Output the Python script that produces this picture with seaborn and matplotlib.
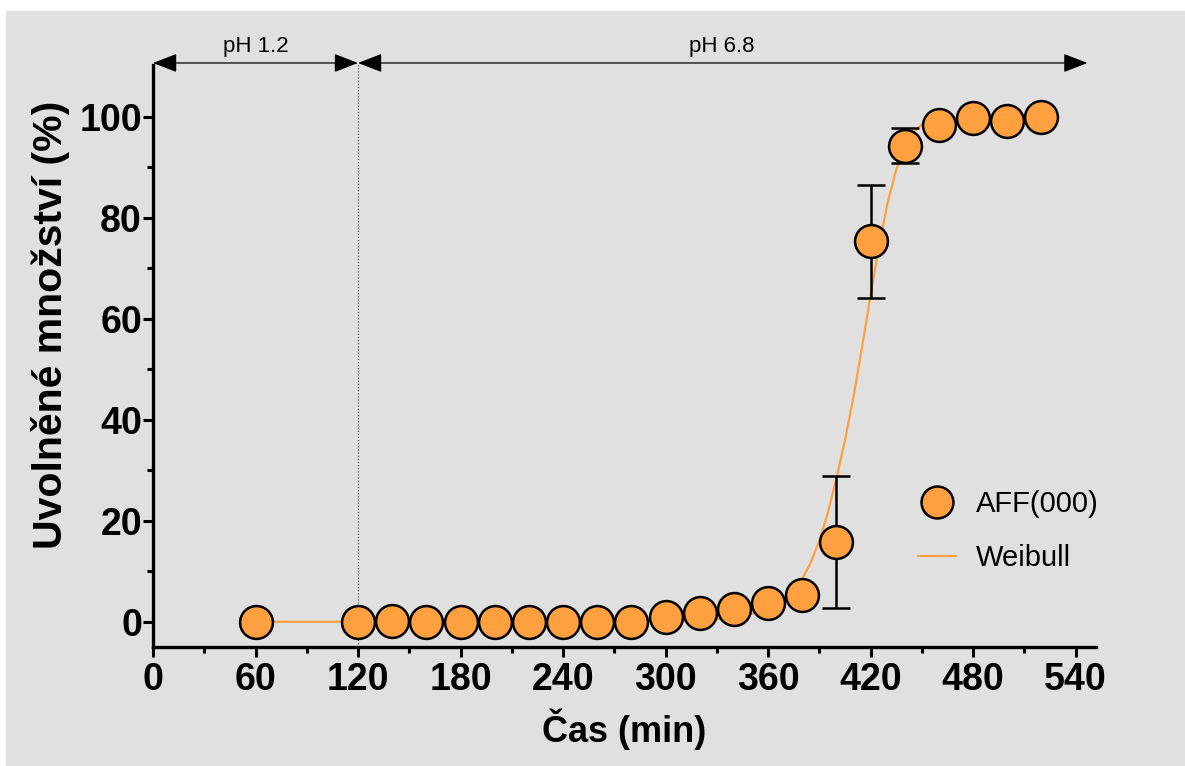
import matplotlib
matplotlib.use('Agg')
import matplotlib.pyplot as plt
from matplotlib.lines import Line2D
from matplotlib.patches import Rectangle
from matplotlib.ticker import MultipleLocator
import seaborn as sns

# measured release of AFF(000), mean +- SD
time_min = [60, 120, 140, 160, 180, 200, 220, 240, 260, 280, 300,
            320, 340, 360, 380, 400, 420, 440, 460, 480, 500, 520]
released = [0.0, 0.0, 0.1, 0.0, 0.0, 0.0, 0.0, 0.0, 0.0, 0.0, 1.0,
            1.8, 2.6, 3.8, 5.3, 15.8, 75.4, 94.3, 98.4, 99.8, 99.2, 100.0]
released_sd = [0, 0, 0, 0, 0, 0, 0, 0, 0, 0, 0.3,
               0.4, 0.5, 0.6, 0.8, 13.1, 11.2, 3.5, 0.5, 0.3, 0.4, 0.3]

# Weibull fit
weibull_t = [60, 120, 200, 280, 300, 320, 330, 340, 345, 350, 355, 360, 365, 370, 375,
             380, 385, 390, 395, 400, 405, 410, 415, 420, 425, 430, 435, 440,
             445, 450, 455, 460, 470, 480, 520]
weibull_y = [0.0, 0.0, 0.0, 0.0, 0.05, 0.25, 0.5, 0.9, 1.2, 1.55, 2.0, 2.6, 3.4, 4.5, 6.2,
             8.5, 11.7, 16.0, 21.6, 28.3, 35.9, 44.5, 54.3, 64.6, 74.5, 83.0, 89.5, 94.0,
             96.9, 98.5, 99.3, 99.7, 99.95, 100.0, 100.0]

# medium phases
phase_names = ['pH 1.2', 'pH 6.8']
phase_start = [0, 120]
phase_end = [120, 547]
phase_label_x = [60, 333]

ORANGE = '#ffa040'
BG = '#e0e0e0'

sns.set_theme(style='white')
plt.rcParams['font.family'] = ['Liberation Sans', 'DejaVu Sans']
plt.rcParams.update({'text.color': 'black', 'axes.labelcolor': 'black',
                     'xtick.color': 'black', 'ytick.color': 'black'})

fig = plt.figure(figsize=(11.85, 7.66), dpi=100)
fig.patches.append(Rectangle((6 / 1185, 0), 1, 1 - 11 / 766, transform=fig.transFigure,
                             facecolor=BG, edgecolor='none', zorder=-10))
ax = fig.add_axes([153 / 1185, 119 / 766, 943 / 1185, 582 / 766])
ax.set_facecolor(BG)

ax.errorbar(time_min, released, yerr=released_sd, fmt='none', ecolor='black',
            elinewidth=1.8, capsize=10, capthick=1.8, zorder=2)
sns.lineplot(x=weibull_t, y=weibull_y, color=ORANGE, linewidth=1.6, ax=ax, zorder=1)
sns.scatterplot(x=time_min, y=released, s=560, color=ORANGE, edgecolor='black',
                linewidth=1.8, ax=ax, zorder=3)

ax.set_xlim(0, 552)
ax.set_ylim(-5, 110.3)
ax.xaxis.set_major_locator(MultipleLocator(60))
ax.xaxis.set_minor_locator(MultipleLocator(30))
ax.set_yticks([0, 20, 40, 60, 80, 100])
ax.set_yticks([10, 30, 50, 70, 90], minor=True)

for side in ['top', 'right']:
    ax.spines[side].set_visible(False)
for side in ['left', 'bottom']:
    ax.spines[side].set_linewidth(2.4)
    ax.spines[side].set_color('black')
ax.spines['left'].set_capstyle('projecting')

ax.tick_params(which='major', direction='out', length=7, width=2.2, color='black',
               labelsize=27, labelcolor='black', bottom=True, left=True)
ax.tick_params(which='minor', direction='out', length=4, width=2.2, color='black',
               bottom=True, left=True)
ax.tick_params(axis='y', which='major', pad=1)
ax.tick_params(axis='x', which='major', pad=4)
for lab in ax.get_xticklabels() + ax.get_yticklabels():
    lab.set_fontweight('bold')

ax.set_xlabel('Čas (min)', fontsize=26, fontweight='bold', color='black')
ax.set_ylabel('Uvolněné množství (%)', fontsize=29.5, fontweight='bold', color='black')
ax.xaxis.set_label_coords(0.5, -0.105)
ax.yaxis.set_label_coords(-0.088, 0.553)

# phase arrows on top
arrow_y = 110.7
for name, x0, x1, xl in zip(phase_names, phase_start, phase_end, phase_label_x):
    ax.annotate('', xy=(x1, arrow_y), xytext=(x0, arrow_y), annotation_clip=False,
                arrowprops=dict(arrowstyle='<|-|>,head_length=0.75,head_width=0.29',
                                mutation_scale=20, color='black', lw=0.9,
                                shrinkA=0, shrinkB=0))
    ax.text(xl, 114.0, name, ha='center', va='center', fontsize=16, color='black',
            clip_on=False)
ax.plot([phase_start[1], phase_start[1]], [-5, arrow_y], color='#555555', lw=0.9,
        linestyle=(0, (1, 1.5)), clip_on=False, zorder=0.5)

handles = [Line2D([], [], marker='o', linestyle='none', markersize=23, markerfacecolor=ORANGE,
                  markeredgecolor='black', markeredgewidth=1.8),
           Line2D([], [], color=ORANGE, linewidth=1.6)]
ax.legend(handles, ['AFF(000)', 'Weibull'], loc='center left', bbox_to_anchor=(0.783, 0.199),
          frameon=False, fontsize=21, handlelength=1.3, handletextpad=0.7, labelspacing=0.9)

fig.savefig('out.png', dpi=100, facecolor='white')
